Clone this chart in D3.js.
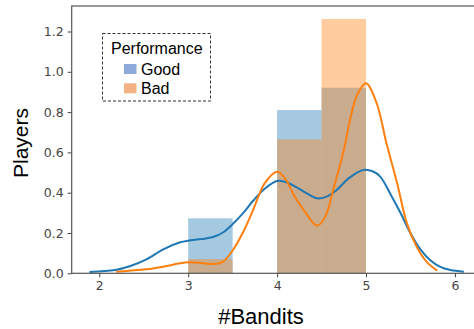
<!DOCTYPE html>
<html>
<head>
<meta charset="utf-8">
<script src="https://cdn.jsdelivr.net/npm/d3@7"></script>
<style>
  body { margin: 0; background: #fff; }
  svg { display: block; }
</style>
</head>
<body>
<div id="chart"></div>
<script>
// histogram bins (left edges, width 0.5) and heights
var binEdges = [3, 3.5, 4, 4.5];
var goodBars = [0.273, 0, 0.81, 0.921];
var badBars = [0.071, 0, 0.665, 1.262];

// kde curves
var goodKdeX = [1.89, 2.18, 2.35, 2.53, 2.72, 2.91, 3.0, 3.15, 3.28, 3.4, 3.49, 3.62, 3.73, 3.86, 4.0, 4.1, 4.22, 4.34, 4.46, 4.57, 4.67, 4.8, 4.97, 5.08, 5.16, 5.28, 5.39, 5.5, 5.61, 5.72, 5.83, 5.95, 6.1];
var goodKdeY = [0.007, 0.016, 0.036, 0.069, 0.119, 0.154, 0.162, 0.17, 0.18, 0.205, 0.24, 0.3, 0.36, 0.42, 0.458, 0.452, 0.427, 0.395, 0.372, 0.383, 0.413, 0.47, 0.513, 0.505, 0.48, 0.389, 0.298, 0.199, 0.12, 0.066, 0.033, 0.016, 0.008];
var badKdeX = [2.19, 2.53, 2.72, 2.91, 3.0, 3.17, 3.28, 3.39, 3.49, 3.62, 3.73, 3.86, 4.0, 4.09, 4.2, 4.3, 4.45, 4.54, 4.64, 4.75, 4.82, 4.9, 5.0, 5.12, 5.23, 5.35, 5.46, 5.57, 5.68, 5.8];
var badKdeY = [0.008, 0.02, 0.033, 0.05, 0.055, 0.05, 0.046, 0.057, 0.107, 0.206, 0.314, 0.446, 0.504, 0.47, 0.38, 0.314, 0.236, 0.28, 0.43, 0.61, 0.761, 0.885, 0.943, 0.844, 0.645, 0.447, 0.248, 0.132, 0.058, 0.013];

var xTicks = [2, 3, 4, 5, 6];
var yTicks = [0, 0.2, 0.4, 0.6, 0.8, 1.0, 1.2];
var legendLabels = ["Good", "Bad"];
var legendColors = ["#8eaadc", "#f4b183"];

var width = 474;
var height = 329;
// plot area edges (right spine falls just outside the picture)
var pLeft = 71.7, pRight = 482.5, pTop = 6, pBottom = 273.3;

var svg = d3.select("#chart")
  .append("svg")
  .attr("width", width)
  .attr("height", height);

var x = d3.scaleLinear().domain([1.69, 6.31]).range([pLeft, pRight]);
var y = d3.scaleLinear().domain([0, 1.3266]).range([pBottom, pTop]);

// bars, good first then bad on top
function drawBars(vals, color) {
  svg.append("g")
    .selectAll("rect")
    .data(binEdges.map((e, i) => ({ x0: e, h: vals[i] })).filter(d => d.h > 0))
    .enter()
    .append("rect")
    .attr("x", d => x(d.x0))
    .attr("width", d => x(d.x0 + 0.5) - x(d.x0))
    .attr("y", d => y(d.h))
    .attr("height", d => y(0) - y(d.h))
    .style("fill", color)
    .style("fill-opacity", 0.4);
}

var line = d3.line()
  .x(d => x(d[0]))
  .y(d => y(d[1]))
  .curve(d3.curveCatmullRom.alpha(0.5));

function drawKde(xs, ys, color) {
  svg.append("path")
    .datum(xs.map((v, i) => [v, ys[i]]))
    .attr("d", line)
    .attr("fill", "none")
    .attr("stroke", color)
    .attr("stroke-width", 2);
}

drawBars(goodBars, "#1f77b4");
drawBars(badBars, "#ff7f0e");
drawKde(goodKdeX, goodKdeY, "#1f77b4");
drawKde(badKdeX, badKdeY, "#ff7f0e");

// axes
var xAxis = svg.append("g")
  .attr("transform", "translate(0," + pBottom + ")")
  .call(d3.axisBottom(x).tickValues(xTicks).tickFormat(d3.format("d")).tickSize(4).tickPadding(4));
var yAxis = svg.append("g")
  .attr("transform", "translate(" + pLeft + ",0)")
  .call(d3.axisLeft(y).tickValues(yTicks).tickFormat(d3.format(".1f")).tickSize(4).tickPadding(4));

[xAxis, yAxis].forEach(function (a) {
  a.select(".domain").remove();
  a.selectAll(".tick line").attr("stroke", "#444").attr("stroke-width", 1);
  a.selectAll(".tick text")
    .attr("fill", "#444")
    .style("font-family", "DejaVu Sans")
    .style("font-size", "12.5px");
});

// spines
svg.append("rect")
  .attr("x", pLeft)
  .attr("y", pTop)
  .attr("width", pRight - pLeft)
  .attr("height", pBottom - pTop)
  .attr("fill", "none")
  .attr("stroke", "#555")
  .attr("stroke-width", 1.2);

// axis titles
svg.append("text")
  .text("#Bandits")
  .attr("x", 261)
  .attr("y", 324)
  .attr("text-anchor", "middle")
  .style("font-family", "Liberation Sans")
  .style("font-size", "22px")
  .attr("fill", "#000");

svg.append("text")
  .text("Players")
  .attr("transform", "translate(28,143) rotate(-90)")
  .attr("text-anchor", "middle")
  .style("font-family", "Liberation Sans")
  .style("font-size", "21px")
  .attr("fill", "#000");

// legend
var legend = svg.append("g");
legend.append("rect")
  .attr("x", 102.5)
  .attr("y", 33.5)
  .attr("width", 108)
  .attr("height", 67.5)
  .attr("fill", "#fff")
  .attr("stroke", "#333")
  .attr("stroke-width", 1)
  .attr("stroke-dasharray", "3,2");
legend.append("text")
  .text("Performance")
  .attr("x", 111)
  .attr("y", 53.5)
  .style("font-family", "Liberation Sans")
  .style("font-size", "16px");
legend.selectAll(".item")
  .data(legendLabels)
  .enter()
  .append("g")
  .attr("class", "item")
  .each(function (d, i) {
    var g = d3.select(this);
    g.append("rect")
      .attr("x", 124)
      .attr("y", 64 + i * 19.3)
      .attr("width", 12.5)
      .attr("height", 10)
      .attr("fill", legendColors[i]);
    g.append("text")
      .text(d)
      .attr("x", 141)
      .attr("y", 74.5 + i * 19.3)
      .style("font-family", "Liberation Sans")
      .style("font-size", "16px");
  });
</script>
</body>
</html>
